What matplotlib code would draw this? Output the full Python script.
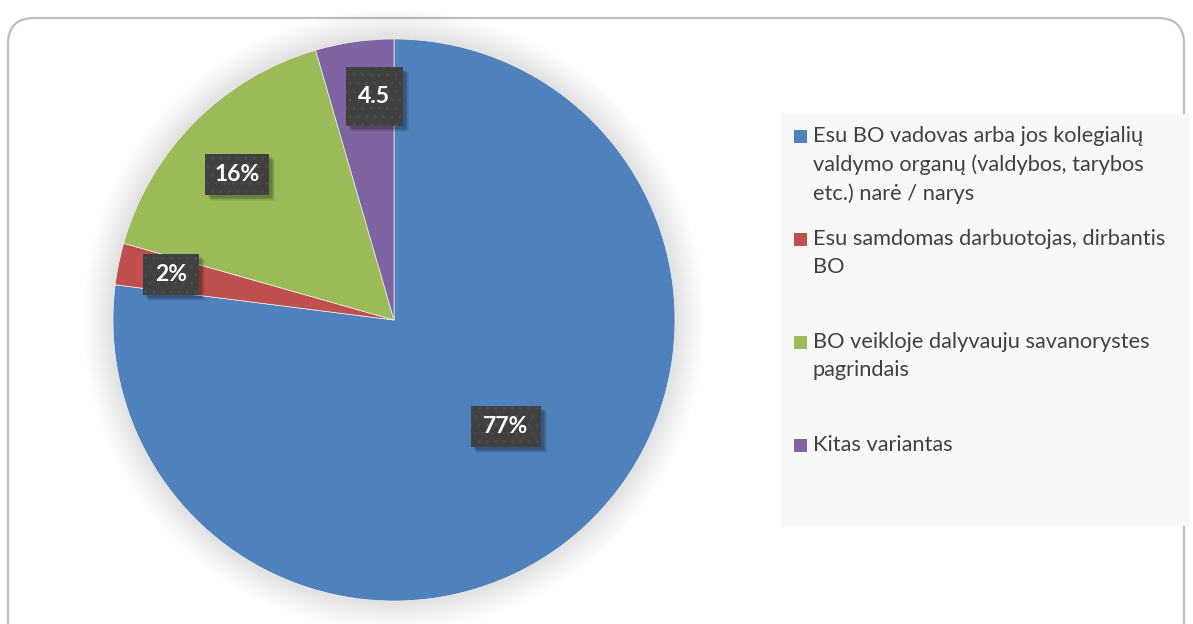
import numpy as np
import matplotlib
matplotlib.use('Agg')
from matplotlib import pyplot as plt
from matplotlib.patches import FancyBboxPatch, Rectangle, Circle

# data
categories = [
    'Esu BO vadovas arba jos kolegialių\nvaldymo organų (valdybos, tarybos\netc.) narė / narys',
    'Esu samdomas darbuotojas, dirbantis\nBO',
    'BO veikloje dalyvauju savanorystes\npagrindais',
    'Kitas variantas',
]
values = [77.0, 2.4, 16.1, 4.5]
value_labels = ['77%', '2%', '16%', '4.5']
colors = ['#4F81BD', '#C0504D', '#9BBB59', '#8064A2']

# layout (pixels, figure is 1193x624)
W, H = 1193, 624
cx, cy, R = 394, H - 320, 281
label_dist = [0.55, 0.81, 0.76, 0.80]
label_turn = [5, 0, 2, -3]          # degrees, counterclockwise tweak
box_size = [(70, 41), (56, 41), (64, 41), (57, 59)]

fig = plt.figure(figsize=(W / 100, H / 100), dpi=100)
fig.patch.set_facecolor('white')
ax = fig.add_axes([0, 0, 1, 1])
ax.set_xlim(0, W)
ax.set_ylim(0, H)
ax.set_aspect('equal')
ax.axis('off')

# chart frame with rounded corners
frame = FancyBboxPatch((8, -40), W - 9 - 8, H - 10 + 40 - 8,
                       boxstyle='round,pad=0,rounding_size=26',
                       fc='white', ec='#BFBFBF', lw=1.6, zorder=0)
ax.add_patch(frame)

# soft glow around pie
for k in range(30, 0, -1):
    ax.add_patch(Circle((cx, cy), R + k, fc='black', ec='none',
                        alpha=0.003, zorder=1))

wedges, _ = ax.pie(values, colors=colors, startangle=90, counterclock=False,
                   center=(cx, cy), radius=R,
                   wedgeprops=dict(linewidth=0.5, edgecolor='#f0f0f0'))
for w in wedges:
    w.set_zorder(2)
ax.set_xlim(0, W)
ax.set_ylim(0, H)

# data labels in dark boxes with soft shadow
for w, txt, d, turn, (bw, bh) in zip(wedges, value_labels, label_dist,
                                       label_turn, box_size):
    mid = np.deg2rad((w.theta1 + w.theta2) / 2 + turn)
    x = cx + d * R * np.cos(mid)
    y = cy + d * R * np.sin(mid)
    for off, a in [(6, 0.06), (5, 0.08), (4, 0.1), (3, 0.12)]:
        ax.add_patch(Rectangle((x - bw / 2 + off, y - bh / 2 - off), bw, bh,
                               fc='black', ec='none', alpha=a, zorder=4))
    ax.add_patch(Rectangle((x - bw / 2, y - bh / 2), bw, bh, fc='#404040',
                           ec='#4d4d4d', lw=0, hatch='..', zorder=5))
    ax.text(x, y, txt, ha='center', va='center', color='white',
            fontsize=16.5, fontweight='bold', family='Lato', zorder=6)

# legend panel
ax.add_patch(Rectangle((781, H - 526), 409, 412, fc='#F8F8F8', ec='none', zorder=1))
top0 = 130
step = 103
for i, (lab, col) in enumerate(zip(categories, colors)):
    top = top0 + i * step
    ax.add_patch(Rectangle((794, H - top - 13), 13, 13, fc=col, ec='none', zorder=3))
    ax.text(813, H - top + 4, lab, ha='left', va='top', color='#404040',
            fontsize=15.7, family='Lato', linespacing=1.52, zorder=3)

fig.savefig('out.png', dpi=100)
